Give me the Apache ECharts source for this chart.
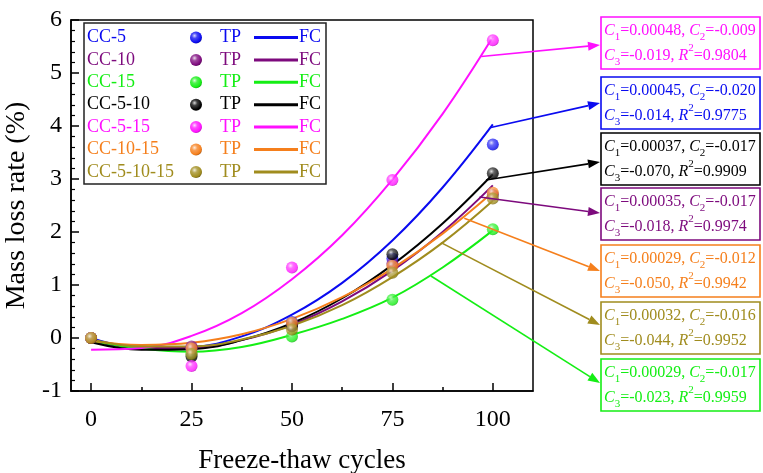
<!DOCTYPE html>
<html>
<head>
<meta charset="utf-8">
<script src="https://cdn.jsdelivr.net/npm/echarts@6/dist/echarts.min.js"></script>
<style>
  html, body { margin: 0; padding: 0; background: #fff; }
  #chart { width: 763px; height: 473px; }
</style>
</head>
<body>
<div id="chart"></div>
<script>
// Freeze-thaw cycles at which mass loss was measured
const cycles = [0, 25, 50, 75, 100];
// Cycles at which the fitted curves are sampled
const fitCycles = [0, 12.5, 25, 37.5, 50, 62.5, 75, 87.5, 100];

const mixNames = ['CC-5', 'CC-10', 'CC-15', 'CC-5-10', 'CC-5-15', 'CC-10-15', 'CC-5-10-15'];
const mixColors = ['#0a0af0', '#7d0a7d', '#14ee14', '#000000', '#ff10ff', '#f57f1c', '#a08c1e'];

// Measured mass loss rate (%), TP
const tpCC5      = [0, -0.20, 0.30, 1.50, 3.65];
const tpCC10     = [0, -0.16, 0.24, 1.40, 2.70];
const tpCC15     = [0, -0.30, 0.03, 0.72, 2.05];
const tpCC5_10   = [0, -0.35, 0.22, 1.58, 3.11];
const tpCC5_15   = [0, -0.53, 1.33, 2.98, 5.62];
const tpCC10_15  = [0, -0.20, 0.29, 1.36, 2.74];
const tpCC5_10_15 = [0, -0.30, 0.16, 1.23, 2.63];

// Fitted curves (%), FC
const fcCC5      = [0.00, -0.19, -0.17, 0.03, 0.44, 1.04, 1.84, 2.84, 4.03];
const fcCC10     = [-0.05, -0.19, -0.19, -0.04, 0.25, 0.69, 1.27, 2.00, 2.88];
const fcCC15     = [-0.05, -0.20, -0.26, -0.17, 0.06, 0.36, 0.76, 1.33, 2.03];
const fcCC5_10   = [-0.08, -0.22, -0.21, -0.04, 0.28, 0.75, 1.38, 2.16, 3.09];
const fcCC5_15   = [-0.22, -0.19, 0.04, 0.47, 1.11, 1.94, 2.99, 4.23, 5.68];
const fcCC10_15  = [-0.05, -0.13, -0.09, 0.07, 0.36, 0.77, 1.31, 1.97, 2.75];
const fcCC5_10_15 = [-0.03, -0.16, -0.16, -0.03, 0.23, 0.62, 1.15, 1.80, 2.59];

const tpSets = [tpCC5, tpCC10, tpCC15, tpCC5_10, tpCC5_15, tpCC10_15, tpCC5_10_15];
const fcSets = [fcCC5, fcCC10, fcCC15, fcCC5_10, fcCC5_15, fcCC10_15, fcCC5_10_15];

// Fit coefficients per mix
const coefC1 = ['0.00045', '0.00035', '0.00029', '0.00037', '0.00048', '0.00029', '0.00032'];
const coefC2 = ['-0.020', '-0.017', '-0.017', '-0.017', '-0.009', '-0.012', '-0.016'];
const coefC3 = ['-0.014', '-0.018', '-0.023', '-0.070', '-0.019', '-0.050', '-0.044'];
const coefR2 = ['0.9775', '0.9974', '0.9959', '0.9909', '0.9804', '0.9942', '0.9952'];

// Point on each fitted curve where its callout arrow starts (cycles, %)
const calloutCycle = [99.5, 96.7, 84.6, 98.3, 97.1, 92.9, 87.1];
const calloutRate  = [3.97, 2.66, 1.17, 2.98, 5.31, 2.26, 1.80];

const xTicks = [0, 25, 50, 75, 100];
const xMinorTicks = [12.5, 37.5, 62.5, 87.5];

const SERIF = "'Liberation Serif', 'Times New Roman', serif";

function shade(hex, f) {
  const n = parseInt(hex.slice(1), 16);
  let r = (n >> 16) & 255, g = (n >> 8) & 255, b = n & 255;
  if (f > 0) { r += (255 - r) * f; g += (255 - g) * f; b += (255 - b) * f; }
  else { r *= (1 + f); g *= (1 + f); b *= (1 + f); }
  return 'rgb(' + Math.round(r) + ',' + Math.round(g) + ',' + Math.round(b) + ')';
}
function sphere(c) {
  return {
    type: 'radial', x: 0.38, y: 0.35, r: 0.75,
    colorStops: [
      { offset: 0, color: shade(c, 0.85) },
      { offset: 0.3, color: shade(c, 0.25) },
      { offset: 0.75, color: c },
      { offset: 1, color: shade(c, -0.45) }
    ]
  };
}

const chart = echarts.init(document.getElementById('chart'), null, { renderer: 'canvas' });

const series = [];
fcSets.forEach((vals, k) => {
  series.push({
    type: 'line', name: mixNames[k] + ' FC', smooth: 0.4, showSymbol: false,
    data: fitCycles.map((x, i) => [x, vals[i]]),
    lineStyle: { color: mixColors[k], width: 2 }, z: 2, silent: true
  });
});
tpSets.forEach((vals, k) => {
  series.push({
    type: 'scatter', name: mixNames[k] + ' TP', symbolSize: 12,
    data: cycles.map((x, i) => [x, vals[i]]),
    itemStyle: { color: sphere(mixColors[k]) }, z: 3, silent: true
  });
});

const axisLine = { show: true, onZero: false, lineStyle: { color: '#000', width: 1.5 } };

chart.setOption({
  animation: false,
  backgroundColor: '#fff',
  grid: { left: 71, top: 20, width: 462, height: 371, outerBoundsMode: 'none', containLabel: false,
    show: true, borderColor: '#000', borderWidth: 1.5, backgroundColor: 'transparent' },
  xAxis: [{
    type: 'value', min: -5, max: 110,
    axisLine: axisLine,
    axisTick: { inside: true, length: 8, lineStyle: { color: '#000', width: 1.5 }, customValues: xTicks },
    axisLabel: { color: '#000', fontSize: 24, fontFamily: SERIF, margin: 17, customValues: xTicks },
    splitLine: { show: false },
    name: 'Freeze-thaw cycles', nameLocation: 'middle', nameGap: 56,
    nameTextStyle: { color: '#000', fontSize: 27, fontFamily: SERIF }
  }, {
    type: 'value', min: -5, max: 110, position: 'bottom', gridIndex: 0,
    axisLine: { show: false, onZero: false },
    axisTick: { inside: true, length: 4, lineStyle: { color: '#000', width: 1.5 }, customValues: xMinorTicks },
    axisLabel: { show: false }, splitLine: { show: false }
  }],
  yAxis: {
    type: 'value', min: -1, max: 6, interval: 1,
    axisLine: axisLine,
    axisTick: { inside: true, length: 8, lineStyle: { color: '#000', width: 1.5 } },
    minorTick: { show: true, splitNumber: 5, length: 4, lineStyle: { color: '#000', width: 1.2 } },
    axisLabel: { color: '#000', fontSize: 24, fontFamily: SERIF, margin: 9 },
    splitLine: { show: false },
    name: 'Mass loss rate (%)', nameLocation: 'middle', nameGap: 32,
    nameTextStyle: { color: '#000', fontSize: 28, fontFamily: SERIF }
  },
  series: series
});

// Legend panel: name, sphere + TP, line + FC
const graphics = [];
const lgX = 84, lgY = 23, lgW = 242, lgH = 161, rowY0 = 37.5, rowStep = 22.4;
graphics.push({ type: 'rect', shape: { x: lgX, y: lgY, width: lgW, height: lgH },
  style: { fill: '#fff', stroke: '#222', lineWidth: 1.5 }, z: 10 });
mixNames.forEach((nm, k) => {
  const y = rowY0 + k * rowStep, c = mixColors[k];
  const font = '18px ' + SERIF;
  graphics.push({ type: 'text', z: 11, style: { x: 87, y: y, text: nm, fill: c, font: font, align: 'left', verticalAlign: 'middle' } });
  graphics.push({ type: 'circle', z: 11, shape: { cx: 196, cy: y, r: 6 }, style: { fill: sphere(c) } });
  graphics.push({ type: 'text', z: 11, style: { x: 220, y: y, text: 'TP', fill: c, font: font, align: 'left', verticalAlign: 'middle' } });
  graphics.push({ type: 'line', z: 11, shape: { x1: 254, y1: y, x2: 298, y2: y }, style: { stroke: c, lineWidth: 3 } });
  graphics.push({ type: 'text', z: 11, style: { x: 299, y: y, text: 'FC', fill: c, font: font, align: 'left', verticalAlign: 'middle' } });
});

// Coefficient boxes, top to bottom, with arrows from the fitted curves
const boxOrder = [4, 0, 3, 1, 5, 6, 2];
const boxTop = [17, 77, 133, 188, 245, 302, 359];
const arrowTipY = [45, 103, 162, 213, 271, 325, 383];
const boxX = 601, boxW = 159, boxH = 52;
const rich = {
  n: { fontSize: 16, fontFamily: SERIF, lineHeight: 25 },
  i: { fontSize: 16, fontFamily: SERIF, fontStyle: 'italic', lineHeight: 25 },
  s: { fontSize: 11, fontFamily: SERIF, lineHeight: 13, verticalAlign: 'bottom' },
  p: { fontSize: 11, fontFamily: SERIF, lineHeight: 13, verticalAlign: 'top' }
};
boxOrder.forEach((k, j) => {
  const c = mixColors[k];
  const top = boxTop[j];
  graphics.push({ type: 'rect', z: 10, shape: { x: boxX, y: top, width: boxW, height: boxH },
    style: { fill: '#fff', stroke: c, lineWidth: 1.6 } });
  const txt = '{i|C}{s|1}{n|=' + coefC1[k] + ', }{i|C}{s|2}{n|=' + coefC2[k] + '}\n' +
              '{i|C}{s|3}{n|=' + coefC3[k] + ', }{i|R}{p|2}{n|=' + coefR2[k] + '}';
  graphics.push({ type: 'text', z: 11, style: { x: boxX + 3, y: top + boxH / 2, text: txt, rich: rich,
    fill: c, align: 'left', verticalAlign: 'middle', font: '16px ' + SERIF } });

  const p = chart.convertToPixel({ xAxisIndex: 0, yAxisIndex: 0 }, [calloutCycle[k], calloutRate[k]]);
  const tx = boxX - 1, ty = arrowTipY[j];
  const dx = tx - p[0], dy = ty - p[1], L = Math.hypot(dx, dy);
  const ux = dx / L, uy = dy / L, hl = 12, hw = 4.5;
  const bx = tx - ux * hl, by = ty - uy * hl;
  graphics.push({ type: 'line', z: 9, shape: { x1: p[0], y1: p[1], x2: bx, y2: by }, style: { stroke: c, lineWidth: 1.6 } });
  graphics.push({ type: 'polygon', z: 9, shape: { points: [[tx, ty], [bx - uy * hw, by + ux * hw], [bx + uy * hw, by - ux * hw]] },
    style: { fill: c } });
});

chart.setOption({ graphic: graphics });
</script>
</body>
</html>
